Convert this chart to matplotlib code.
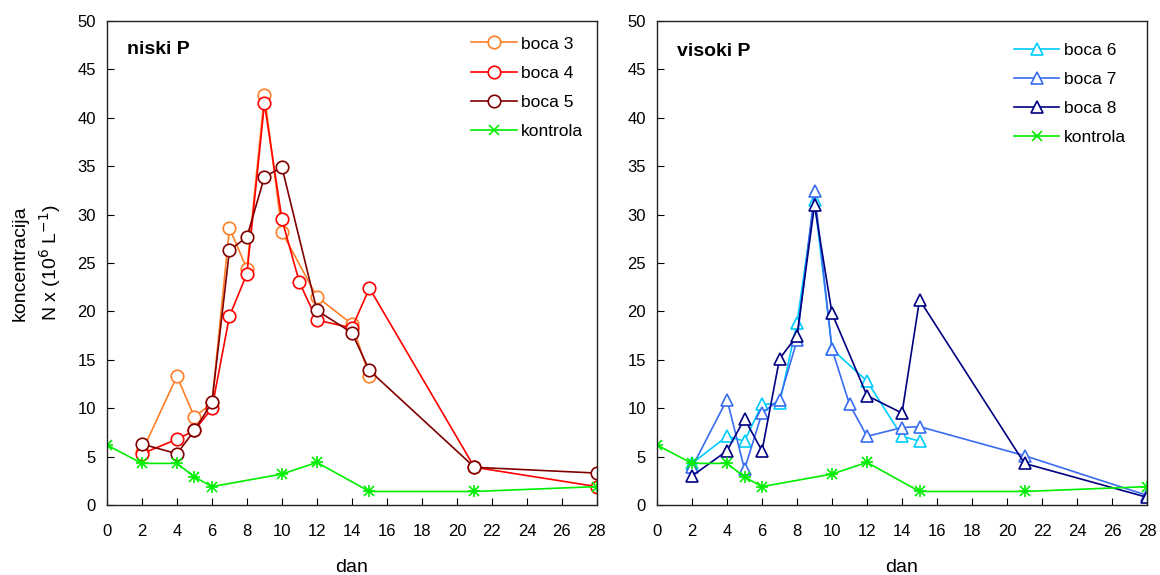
import matplotlib.pyplot as plt

plt.rcParams['font.family'] = ['Liberation Sans', 'DejaVu Sans']
plt.rcParams['font.size'] = 11

# niski P
days_b3 = [2, 4, 5, 6, 7, 8, 9, 10, 12, 14, 15]
boca3 = [5.5, 13.3, 9.1, 10.5, 28.6, 24.4, 42.4, 28.2, 21.5, 18.7, 13.3]
days_b4 = [2, 4, 5, 6, 7, 8, 9, 10, 11, 12, 14, 15, 21, 28]
boca4 = [5.3, 6.8, 7.7, 10.0, 19.5, 23.9, 41.5, 29.5, 23.0, 19.1, 18.3, 22.4, 3.9, 1.9]
days_b5 = [2, 4, 5, 6, 7, 8, 9, 10, 12, 14, 15, 21, 28]
boca5 = [6.3, 5.3, 7.7, 10.6, 26.3, 27.7, 33.9, 34.9, 20.1, 17.8, 13.9, 3.9, 3.3]

# visoki P
days_b6 = [2, 4, 5, 6, 7, 8, 9, 10, 12, 14, 15]
boca6 = [4.3, 7.1, 6.6, 10.4, 10.5, 18.8, 31.5, 16.1, 12.8, 7.1, 6.6]
days_b7 = [2, 4, 5, 6, 7, 8, 9, 10, 11, 12, 14, 15, 21, 28]
boca7 = [3.9, 10.9, 3.7, 9.5, 10.9, 17.0, 32.4, 16.1, 10.4, 7.1, 8.0, 8.1, 5.1, 1.0]
days_b8 = [2, 4, 5, 6, 7, 8, 9, 10, 12, 14, 15, 21, 28]
boca8 = [3.0, 5.6, 8.9, 5.6, 15.1, 17.5, 31.0, 19.8, 11.3, 9.5, 21.2, 4.3, 0.8]

# kontrola
days_k = [0, 2, 4, 5, 6, 10, 12, 15, 21, 28]
kontrola = [6.2, 4.3, 4.3, 2.9, 1.9, 3.2, 4.4, 1.4, 1.4, 1.9]

fig = plt.figure(figsize=(11.6, 5.75), dpi=100)
ax1 = fig.add_axes([0.0922, 0.1217, 0.4224, 0.8417])
ax2 = fig.add_axes([0.5664, 0.1217, 0.4224, 0.8417])

style = dict(lw=1.2, ms=9, mfc='white', mew=1.2)
green = '#00EE00'

ax1.plot(days_b3, boca3, '-o', color='#FF7F27', label='boca 3', **style)
ax1.plot(days_b4, boca4, '-o', color='#FF0000', label='boca 4', **style)
ax1.plot(days_b5, boca5, '-o', color='#800000', label='boca 5', **style)

ax2.plot(days_b6, boca6, '-^', color='#00CCFF', label='boca 6', **style)
ax2.plot(days_b7, boca7, '-^', color='#3A6CF0', label='boca 7', **style)
ax2.plot(days_b8, boca8, '-^', color='#000080', label='boca 8', **style)

for ax in (ax1, ax2):
    ax.plot(days_k, kontrola, '-x', color=green, label='kontrola', lw=1.2, ms=7, mew=1.2)
    ax.plot(days_k, kontrola, '+', color=green, ms=9, mew=1.2)

legend_pos = {ax1: (1.0, 0.997), ax2: (0.985, 0.984)}
for ax, title, ty in [(ax1, 'niski P', 0.942), (ax2, 'visoki P', 0.938)]:
    ax.set_xlim(0, 28)
    ax.set_ylim(0, 50)
    ax.set_xticks(range(0, 29, 2))
    ax.set_yticks(range(0, 51, 5))
    ax.tick_params(direction='in', length=5, width=0.8, labelsize=12)
    ax.tick_params(axis='x', pad=14)
    ax.tick_params(axis='y', pad=8)
    for s in ax.spines.values():
        s.set_linewidth(1.0)
        s.set_color('#222222')
    ax.set_xlabel('dan', fontsize=14, labelpad=14)
    ax.text(0.04, ty, title, transform=ax.transAxes, fontsize=14,
            fontweight='bold', va='center', ha='left')
    ax.legend(loc='upper right', bbox_to_anchor=legend_pos[ax], frameon=False,
              fontsize=12.5, handlelength=2.6, labelspacing=0.8,
              handletextpad=0.25, borderaxespad=0.4)

ax1.set_ylabel('koncentracija\nN x (10$^6$ L$^{-1}$)', fontsize=14,
               labelpad=10, linespacing=1.45)

fig.savefig('out.png', dpi=100)
